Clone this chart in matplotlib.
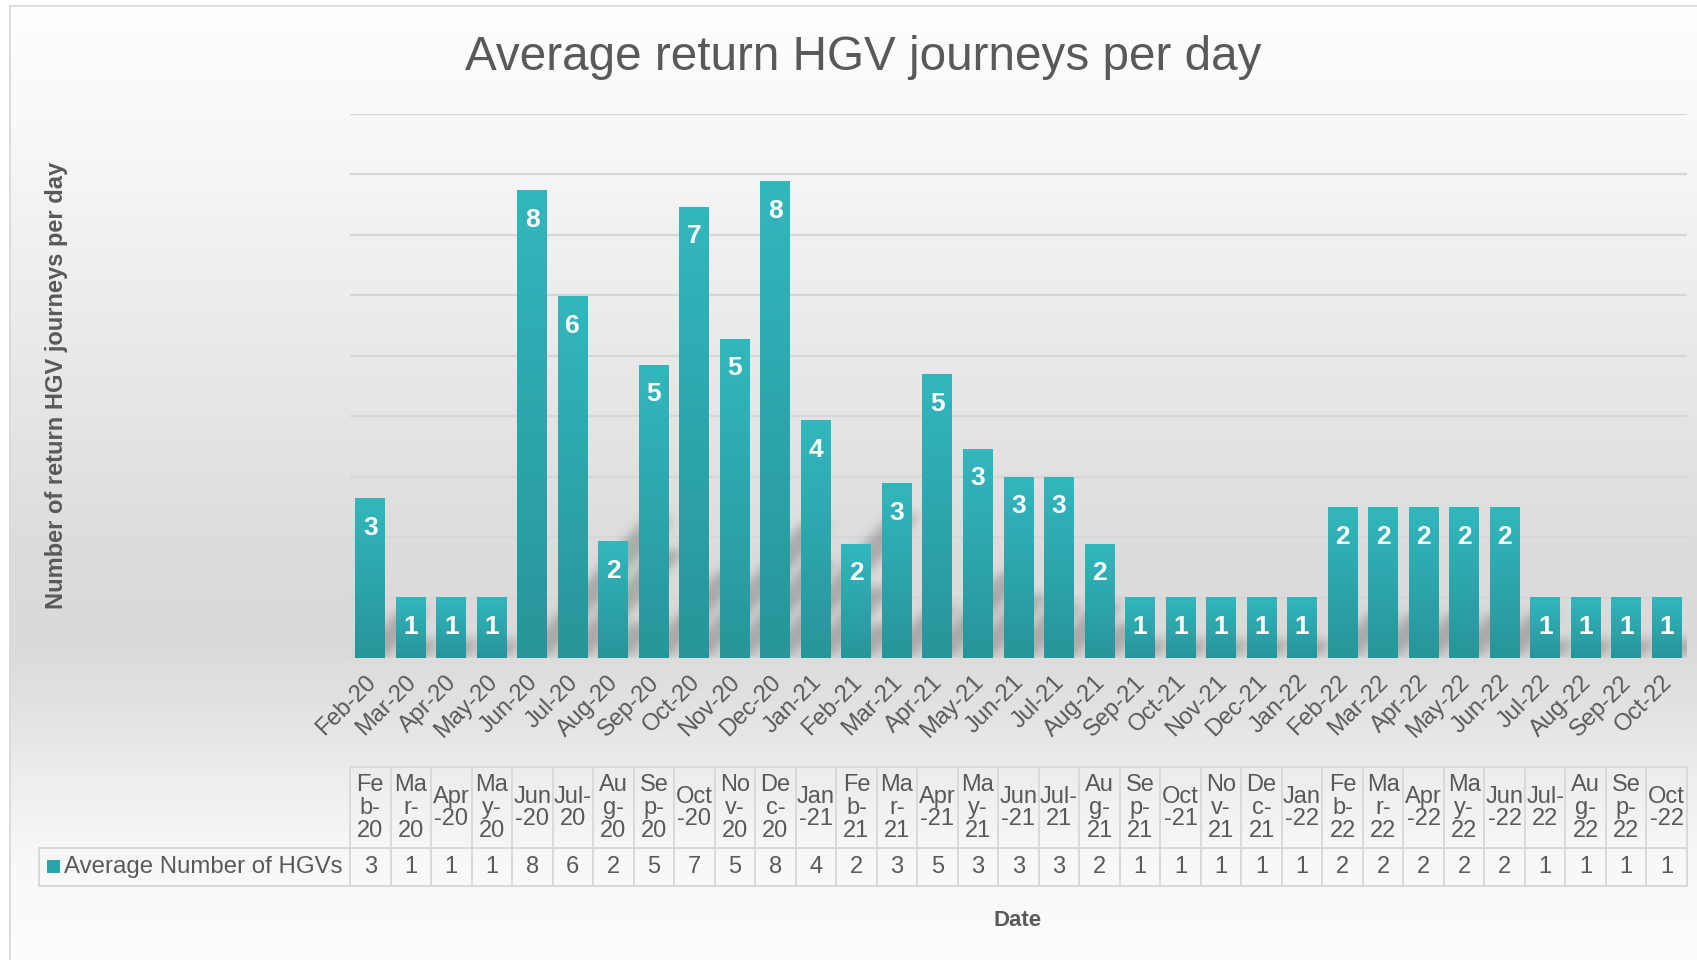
import numpy as np
import matplotlib
matplotlib.use("Agg")
import matplotlib.pyplot as plt
from matplotlib.transforms import ScaledTranslation
from matplotlib.lines import Line2D
from matplotlib.patches import Rectangle

plt.rcParams['font.family'] = ['Liberation Sans', 'DejaVu Sans']

# ---------------- data ----------------
months = ["Feb-20", "Mar-20", "Apr-20", "May-20", "Jun-20", "Jul-20", "Aug-20",
          "Sep-20", "Oct-20", "Nov-20", "Dec-20", "Jan-21", "Feb-21", "Mar-21",
          "Apr-21", "May-21", "Jun-21", "Jul-21", "Aug-21", "Sep-21", "Oct-21",
          "Nov-21", "Dec-21", "Jan-22", "Feb-22", "Mar-22", "Apr-22", "May-22",
          "Jun-22", "Jul-22", "Aug-22", "Sep-22", "Oct-22"]
avg_hgvs = [2.63, 1.0, 1.0, 1.0, 7.72, 5.97, 1.92, 4.84, 7.45, 5.27, 7.87,
            3.92, 1.88, 2.88, 4.68, 3.45, 2.99, 2.99, 1.88, 1.0, 1.0, 1.0,
            1.0, 1.0, 2.48, 2.48, 2.48, 2.48, 2.48, 1.0, 1.0, 1.0, 1.0]
table_headers = ["Fe\nb-\n20", "Ma\nr-\n20", "Apr\n-20", "Ma\ny-\n20", "Jun\n-20",
                 "Jul-\n20", "Au\ng-\n20", "Se\np-\n20", "Oct\n-20", "No\nv-\n20",
                 "De\nc-\n20", "Jan\n-21", "Fe\nb-\n21", "Ma\nr-\n21", "Apr\n-21",
                 "Ma\ny-\n21", "Jun\n-21", "Jul-\n21", "Au\ng-\n21", "Se\np-\n21",
                 "Oct\n-21", "No\nv-\n21", "De\nc-\n21", "Jan\n-22", "Fe\nb-\n22",
                 "Ma\nr-\n22", "Apr\n-22", "Ma\ny-\n22", "Jun\n-22", "Jul-\n22",
                 "Au\ng-\n22", "Se\np-\n22", "Oct\n-22"]
series_name = "Average Number of HGVs"
title = "Average return HGV journeys per day"
y_label = "Number of return HGV journeys per day"
x_label = "Date"
y_max = 9

TXT = '#595959'
GRID = '#d6d6d6'
BAR_TOP = np.array([0x32, 0xb7, 0xbd]) / 255
BAR_BOT = np.array([0x27, 0x95, 0x9a]) / 255

W, H = 1697, 960
fig = plt.figure(figsize=(W / 100, H / 100), dpi=100)
fig.patch.set_facecolor('white')


def fx(px):
    return px / W


def fy(py):
    return 1 - py / H


# ---------------- background gradient ----------------
bg = fig.add_axes([fx(10), 0, 1 - fx(10), fy(6)], zorder=-10)
rows = np.arange(6, 960)
stops_y = [6, 100, 250, 400, 550, 640, 700, 780, 860, 960]
stops_v = [254, 250, 240, 230, 220, 218, 225, 238, 248, 253]
vals = np.interp(rows, stops_y, stops_v) / 255.0
grad = np.repeat(vals[:, None, None], 3, axis=2)
bg.imshow(grad, aspect='auto', extent=[0, 1, 0, 1], origin='upper')
bg.axis('off')

fig.add_artist(Line2D([fx(10), fx(10)], [0, fy(6)], color='#d9d9d9', lw=1.3))
fig.add_artist(Line2D([fx(10), 1], [fy(6), fy(6)], color='#d9d9d9', lw=1.3))

# ---------------- main axes ----------------
px_left, px_right, px_base, px_top = 350, 1687, 658, 113.5
ax = fig.add_axes([fx(px_left), fy(px_base), (px_right - px_left) / W,
                   (px_base - px_top) / H])
ax.patch.set_alpha(0)
n = len(months)
x = np.arange(n)
bw = 0.74

ax.set_yticks(np.arange(0, y_max + 1))
ax.grid(axis='y', color=GRID, lw=1.6, zorder=0)
ax.set_axisbelow(True)
ax.tick_params(axis='y', length=0, labelleft=False)
for s in ax.spines.values():
    s.set_visible(False)

# shadows: blurred, skewed (perspective) copies of each bar
nx, ny = int(px_right - px_left), int(4 * (px_base - px_top) / y_max)
xs = -0.5 + (np.arange(nx) + 0.5) / nx * n
ys = (np.arange(ny) + 0.5) / ny * 4
X, Y = np.meshgrid(xs, ys)
unit_x = (px_right - px_left) / n
unit_y = (px_base - px_top) / y_max
slope = 1.1 * unit_x / unit_y
mask = np.zeros_like(X)
for i, v in enumerate(avg_hgvs):
    h = 0.30 * v
    u = X - Y / slope
    mask = np.maximum(mask, ((Y <= h) & (u >= i - bw / 2) & (u <= i + bw / 2)).astype(float))


def blur(a, sigma):
    r = int(3 * sigma)
    k = np.exp(-0.5 * (np.arange(-r, r + 1) / sigma) ** 2)
    k /= k.sum()
    p = np.pad(a, ((0, 0), (r, r)), mode='edge')
    out = sum(k[j] * p[:, j:j + a.shape[1]] for j in range(2 * r + 1))
    p = np.pad(out, ((r, r), (0, 0)), mode='constant')
    out = sum(k[j] * p[j:j + a.shape[0], :] for j in range(2 * r + 1))
    return out


sh = blur(mask, 5.0)
rgba = np.zeros(sh.shape + (4,))
rgba[..., :3] = 0.35
rgba[..., 3] = sh * 0.38
ax.imshow(rgba, extent=[-0.5, n - 0.5, 0, 4], origin='lower', aspect='auto', zorder=1.5)

bars = ax.bar(x, avg_hgvs, width=bw, color='#2ca7ad', zorder=3)
gcol = np.linspace(0, 1, 200)[:, None, None]
gimg = BAR_BOT + (BAR_TOP - BAR_BOT) * gcol
for b in bars:
    x0, w, h = b.get_x(), b.get_width(), b.get_height()
    ax.imshow(gimg, extent=[x0, x0 + w, 0, h], origin='lower', aspect='auto', zorder=3.1)

for i, v in enumerate(avg_hgvs):
    ax.annotate(str(int(v + 0.5)), xy=(i, v), xytext=(0, -29 * 0.72),
                textcoords='offset points', ha='center', va='center',
                color='white', fontsize=19, fontweight='bold', zorder=5)

ax.axhline(0, color='#d3d3d3', lw=1.6, zorder=2)
ax.set_xticks(x)
ax.set_xticklabels(months, rotation=45, ha='right', va='center',
                   rotation_mode='anchor', fontsize=17, color=TXT)
ax.tick_params(axis='x', length=0, pad=21 * 0.72)
off = ScaledTranslation(2 / 100, 0, fig.dpi_scale_trans)
for lbl in ax.get_xticklabels():
    lbl.set_transform(lbl.get_transform() + off)
ax.set_xlim(-0.5, n - 0.5)
ax.set_ylim(0, y_max)

# ---------------- data table ----------------
tax = fig.add_axes([fx(px_left), fy(886), (px_right - px_left) / W, (886 - 767) / H])
tax.set_xlim(-0.5, n - 0.5)
tax.set_ylim(119, 0)
tax.axis('off')
LC = '#d9d9d9'
LW = 1.4
tax.plot([-0.5, n - 0.5], [0, 0], color=LC, lw=LW, clip_on=False)
for yy in (81, 119):
    tax.plot([-0.5, n - 0.5], [yy, yy], color=LC, lw=LW, clip_on=False)
for i in range(n + 1):
    tax.plot([i - 0.5, i - 0.5], [0, 119], color=LC, lw=LW, clip_on=False)
for i in range(n):
    tax.text(i, 41, table_headers[i], ha='center', va='center', fontsize=17,
             linespacing=1.05, color=TXT)
    tax.text(i, 100, str(int(avg_hgvs[i] + 0.5)), ha='center', va='center',
             fontsize=17, color=TXT)

# legend cell
fig.add_artist(Line2D([fx(39), fx(350)], [fy(848), fy(848)], color=LC, lw=LW))
fig.add_artist(Line2D([fx(39), fx(350)], [fy(886), fy(886)], color=LC, lw=LW))
fig.add_artist(Line2D([fx(39), fx(39)], [fy(848), fy(886)], color=LC, lw=LW))
fig.add_artist(Rectangle((fx(47), fy(873)), 13 / W, 13 / H, transform=fig.transFigure,
                         facecolor='#2aa5ab', edgecolor='none'))
fig.text(fx(64), fy(867), series_name, ha='left', va='center', fontsize=17.3, color=TXT)

# ---------------- titles ----------------
fig.text(fx(863), fy(58), title, ha='center', va='center', fontsize=34.3, color=TXT)
fig.text(fx(57), fy(385), y_label, rotation=90, ha='center', va='center',
         fontsize=17, fontweight='bold', color=TXT)
fig.text(fx(1018), fy(921), x_label, ha='center', va='center', fontsize=16,
         fontweight='bold', color=TXT)

fig.savefig('out.png', dpi=100)
